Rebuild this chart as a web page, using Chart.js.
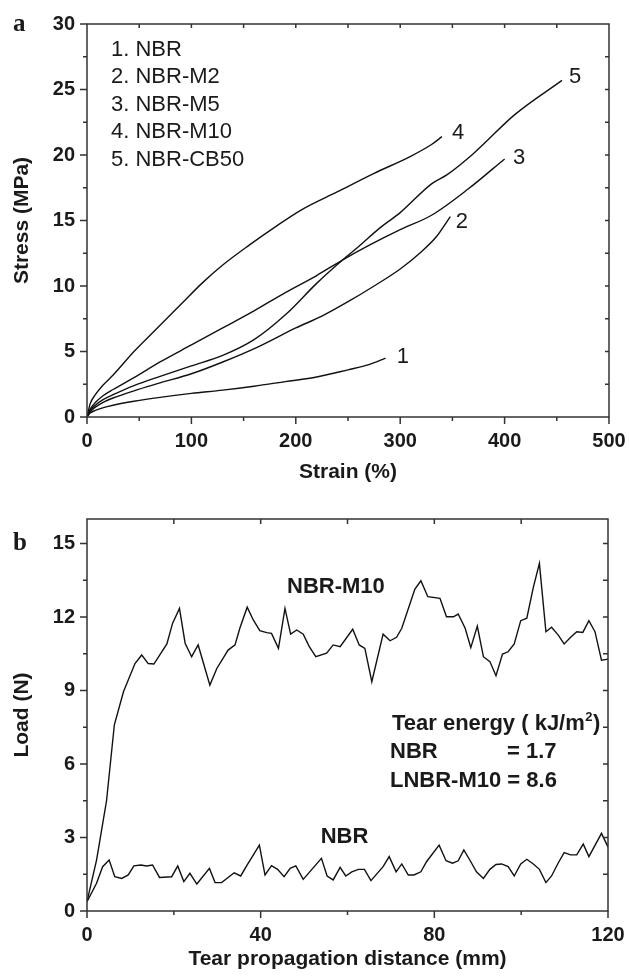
<!DOCTYPE html>
<html><head><meta charset="utf-8">
<script src="https://cdn.jsdelivr.net/npm/chart.js@4/dist/chart.umd.min.js"></script>
<style>
html,body{margin:0;padding:0;background:#fff;}
#wrap{position:relative;width:629px;height:977px;overflow:hidden;}
canvas{position:absolute;left:0;}
#ca{top:0;} #cb{top:490px;}
</style></head><body>
<div id="wrap"><canvas id="ca" width="629" height="490"></canvas><canvas id="cb" width="629" height="487"></canvas></div>
<script>
// ---------- Panel a: stress-strain ----------
const seriesNamesA = ['1. NBR', '2. NBR-M2', '3. NBR-M5', '4. NBR-M10', '5. NBR-CB50'];
const curveNumbers = ['1', '2', '3', '4', '5'];

const strainNBR   = [0,3,8,15,25,45,70,100,130,160,190,220,250,270,286];
const stressNBR   = [0,0.3,0.5,0.7,0.9,1.2,1.5,1.8,2.05,2.35,2.7,3.05,3.6,4.0,4.5];

const strainM2    = [0,3,8,15,25,45,70,100,130,165,200,225,250,275,300,320,335,348];
const stressM2    = [0,0.4,0.75,1.1,1.45,2.0,2.6,3.3,4.2,5.4,6.8,7.7,8.8,10.0,11.3,12.6,13.8,15.3];

const strainM5    = [0,3,8,15,25,45,70,100,130,160,190,220,245,270,300,330,365,400];
const stressM5    = [0,0.6,1.1,1.6,2.1,3.0,4.2,5.5,6.8,8.1,9.5,10.8,12.0,13.1,14.3,15.4,17.4,19.7];

const strainM10   = [0,3,8,15,25,45,65,90,110,130,155,180,205,240,275,310,330,340];
const stressM10   = [0,1.0,1.7,2.4,3.2,5.0,6.6,8.6,10.2,11.6,13.1,14.5,15.8,17.2,18.6,19.9,20.8,21.4];

const strainCB50  = [0,3,8,15,25,45,70,100,130,160,190,220,245,260,280,300,330,345,370,410,455];
const stressCB50  = [0,0.5,0.9,1.3,1.7,2.4,3.1,3.9,4.7,5.9,7.8,10.2,12.0,13.0,14.4,15.6,17.8,18.5,20.1,23.1,25.7];

const strainTicks = [0,100,200,300,400,500];
const stressTicks = [0,5,10,15,20,25,30];

// ---------- Panel b: tear load vs distance ----------
const distM10 = [0,2.2,4.5,6.3,8.4,11.05,12.6,14.1,15.4,18.4,19.7,21.3,22.6,24.1,25.6,28.3,29.9,32.5,34.1,35.2,36.9,38.3,39.8,41.4,42.5,44.1,45.6,46.9,48.3,49.8,51.2,52.7,55.2,56.7,58.3,61.2,62.7,64.0,65.6,68.2,69.8,71.3,72.5,75.5,76.9,78.5,81.3,82.8,84.4,85.5,87.1,88.4,89.9,91.3,92.8,94.2,95.7,97.0,98.4,99.9,101.3,102.8,104.2,105.7,107.0,108.5,109.9,111.4,112.8,114.2,115.6,117.0,118.5,119.7,120];
const loadM10 = [0.38,2.08,4.5,7.6,8.95,10.1,10.45,10.1,10.08,10.9,11.74,12.35,10.93,10.38,10.86,9.22,9.9,10.65,10.86,11.54,12.4,11.88,11.44,11.36,11.33,10.72,12.35,11.3,11.47,11.3,10.79,10.38,10.52,10.86,10.79,11.5,10.86,10.72,9.36,11.3,11.03,11.17,11.54,13.13,13.48,12.83,12.76,12.01,12.01,12.12,11.54,10.75,11.63,10.38,10.18,9.6,10.49,10.58,10.9,11.85,11.95,13.21,14.19,11.4,11.58,11.27,10.9,11.17,11.4,11.37,11.85,11.4,10.24,10.27,10.3];

const distNBR = [0,2.2,3.6,5.1,6.4,8.0,9.5,10.8,12.4,13.7,15.1,16.7,19.5,20.9,22.3,23.7,25.3,28.2,29.5,31.0,32.5,33.9,35.4,36.9,39.7,41.0,42.5,43.9,45.4,46.8,48.1,49.8,54.0,55.3,56.7,58.3,59.6,61.0,62.5,63.9,65.4,68.2,69.6,71.2,72.5,74.0,75.3,76.9,78.2,81.1,82.7,84.2,85.5,86.8,88.4,89.7,91.3,92.8,94.2,95.5,97.0,98.4,99.9,101.3,102.8,104.2,105.7,107.0,108.5,109.9,111.4,112.8,114.3,115.6,118.5,119.9,120];
const loadNBR = [0.38,1.13,1.81,2.08,1.4,1.33,1.47,1.84,1.88,1.84,1.88,1.37,1.4,1.84,1.2,1.54,1.1,1.74,1.16,1.16,1.37,1.56,1.43,1.88,2.69,1.47,1.85,1.7,1.4,1.74,1.84,1.29,2.15,1.43,1.27,1.78,1.43,1.6,1.7,1.7,1.24,1.81,2.22,1.6,1.92,1.47,1.47,1.6,2.01,2.69,2.05,1.95,2.05,2.49,2.01,1.6,1.33,1.7,1.9,1.92,1.81,1.43,1.92,2.11,1.92,1.7,1.16,1.43,1.95,2.38,2.29,2.29,2.73,2.22,3.17,2.65,2.6];

const distTicks = [0,40,80,120];
const loadTicks = [0,3,6,9,12,15];

const tearEnergyNBR = '1.7';
const tearEnergyM10 = '8.6';

// ---------- styling / layout ----------
const SANS = '"Liberation Sans", Arial, Helvetica, sans-serif';
const SERIF = '"Liberation Serif", "Times New Roman", serif';
const INK = '#1a1a1a';
const AXIS = '#333';

function pts(xs, ys) { return xs.map((x, i) => ({x: x, y: ys[i]})); }

function makeFrame(cfg) {
  return {
    id: 'frame',
    afterDraw(chart) {
      const {ctx, chartArea: a, scales: {x, y}} = chart;
      ctx.save();
      ctx.strokeStyle = AXIS; ctx.lineWidth = 1.5;
      ctx.strokeRect(a.left, a.top, a.right - a.left, a.bottom - a.top);
      ctx.beginPath();
      const isMaj = (v, m) => Math.abs(v / m - Math.round(v / m)) < 1e-6;
      for (let i = 0; ; i++) {
        const v = x.min + i * cfg.xMinor; if (v > x.max + 1e-9) break;
        const p = x.getPixelForValue(v);
        ctx.moveTo(p, a.bottom); ctx.lineTo(p, a.bottom + (isMaj(v, cfg.xMajor) ? 7 : 4));
        if (v > x.min && v < x.max) { ctx.moveTo(p, a.top); ctx.lineTo(p, a.top + cfg.inLen); }
      }
      for (let i = 0; ; i++) {
        const v = y.min + i * cfg.yMinor; if (v > y.max + 1e-9) break;
        const p = y.getPixelForValue(v);
        ctx.moveTo(a.left, p); ctx.lineTo(a.left - (isMaj(v, cfg.yMajor) ? 7 : 4), p);
        if (v > y.min && v < y.max) { ctx.moveTo(a.right, p); ctx.lineTo(a.right - cfg.inLen, p); }
      }
      ctx.stroke();
      ctx.fillStyle = INK;
      (cfg.texts || []).forEach(t => {
        ctx.font = t.font; ctx.textAlign = t.align || 'left'; ctx.textBaseline = t.base || 'alphabetic';
        ctx.fillText(t.t, t.x, t.y);
      });
      (cfg.dataTexts || []).forEach(t => {
        ctx.font = t.font; ctx.textAlign = 'left'; ctx.textBaseline = 'middle';
        ctx.fillText(t.t, x.getPixelForValue(t.vx), y.getPixelForValue(t.vy));
      });
      if (cfg.extra) cfg.extra(ctx, chart);
      ctx.restore();
    }
  };
}

function lineDS(data, smooth) {
  return { data: data, showLine: true, borderColor: '#111', borderWidth: 1.4, pointRadius: 0,
    fill: false, tension: smooth ? 0.3 : 0, cubicInterpolationMode: smooth ? 'monotone' : 'default' };
}

function axis(opt) {
  return {
    type: 'linear', min: opt.min, max: opt.max,
    afterBuildTicks: s => { s.ticks = opt.ticks.map(v => ({value: v})); },
    ticks: { font: {family: SANS, weight: 'bold', size: 20}, color: INK, padding: opt.pad, maxRotation: 0, autoSkip: false },
    grid: { display: false, drawTicks: false },
    border: { display: false },
    title: { display: true, text: opt.title, color: INK, font: {family: SANS, weight: 'bold', size: 21}, padding: opt.tpad },
    afterFit: s => { opt.fit(s); s.paddingLeft = 0; s.paddingRight = 0; s.paddingTop = 0; s.paddingBottom = 0; }
  };
}

// Panel a
const legendFont = '22px ' + SANS;
new Chart(document.getElementById('ca'), {
  type: 'scatter',
  data: { datasets: [
    lineDS(pts(strainNBR, stressNBR), true),
    lineDS(pts(strainM2, stressM2), true),
    lineDS(pts(strainM5, stressM5), true),
    lineDS(pts(strainM10, stressM10), true),
    lineDS(pts(strainCB50, stressCB50), true)
  ]},
  options: {
    responsive: false, animation: false, devicePixelRatio: 1,
    layout: { padding: {top: 24, right: 20, bottom: 0, left: 0} },
    plugins: { legend: {display: false}, tooltip: {enabled: false} },
    scales: {
      x: axis({min: 0, max: 500, ticks: strainTicks, pad: 12, title: 'Strain (%)', tpad: {top: 0, bottom: 5}, fit: s => { s.height = 73; }}),
      y: axis({min: 0, max: 30, ticks: stressTicks, pad: 12, title: 'Stress (MPa)', tpad: {top: 10, bottom: 0}, fit: s => { s.width = 87; }})
    }
  },
  plugins: [makeFrame({
    xMinor: 50, xMajor: 100, yMinor: 2.5, yMajor: 5, inLen: 4,
    texts: seriesNamesA.map((n, i) => ({t: n, x: 111, y: 55.5 + i * 27.6, font: legendFont}))
      .concat([{t: 'a', x: 13, y: 31, font: 'bold 25px ' + SERIF}]),
    dataTexts: [
      {t: curveNumbers[0], vx: 296.6, vy: 4.6, font: '22px ' + SANS},
      {t: curveNumbers[1], vx: 353.2, vy: 14.9, font: '22px ' + SANS},
      {t: curveNumbers[2], vx: 408, vy: 19.77, font: '22px ' + SANS},
      {t: curveNumbers[3], vx: 349.6, vy: 21.66, font: '22px ' + SANS},
      {t: curveNumbers[4], vx: 461.7, vy: 25.98, font: '22px ' + SANS}
    ]
  })]
});

// Panel b
const annB = 'bold 22px ' + SANS;
new Chart(document.getElementById('cb'), {
  type: 'scatter',
  data: { datasets: [
    lineDS(pts(distM10, loadM10), false),
    lineDS(pts(distNBR, loadNBR), false)
  ]},
  options: {
    responsive: false, animation: false, devicePixelRatio: 1,
    layout: { padding: {top: 29, right: 21, bottom: 0, left: 0} },
    plugins: { legend: {display: false}, tooltip: {enabled: false} },
    scales: {
      x: axis({min: 0, max: 120, ticks: distTicks, pad: 12, title: 'Tear propagation distance (mm)', tpad: {top: 0, bottom: 5}, fit: s => { s.height = 66; }}),
      y: axis({min: 0, max: 16, ticks: loadTicks, pad: 12, title: 'Load (N)', tpad: {top: 10, bottom: 0}, fit: s => { s.width = 87; }})
    }
  },
  plugins: [makeFrame({
    xMinor: 20, xMajor: 40, yMinor: 1.5, yMajor: 3, inLen: 5,
    texts: [
      {t: 'b', x: 13, y: 60, font: 'bold 25px ' + SERIF},
      {t: 'NBR-M10', x: 287, y: 102.7, font: annB},
      {t: 'NBR', x: 320.7, y: 353.3, font: annB},
      {t: 'NBR', x: 390, y: 268.3, font: annB},
      {t: '= ' + tearEnergyNBR, x: 507, y: 268.3, font: annB},
      {t: 'LNBR-M10 = ' + tearEnergyM10, x: 390, y: 296.7, font: annB}
    ],
    extra: (ctx) => {
      ctx.textAlign = 'left'; ctx.textBaseline = 'alphabetic';
      ctx.font = annB;
      let x = 392, y = 240;
      const s1 = 'Tear energy ( kJ/m';
      ctx.fillText(s1, x, y); x += ctx.measureText(s1).width;
      ctx.font = 'bold 13px ' + SANS; ctx.fillText('2', x + 0.5, y - 9); x += ctx.measureText('2').width + 1;
      ctx.font = annB; ctx.fillText(')', x, y);
    }
  })]
});
</script>
</body></html>
